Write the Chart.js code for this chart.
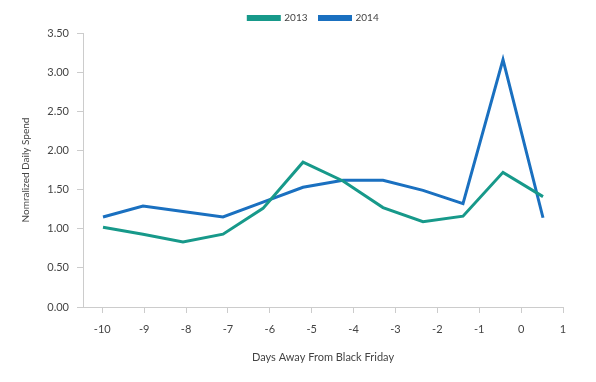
<!DOCTYPE html>
<html>
<head>
<meta charset="utf-8">
<script src="https://cdn.jsdelivr.net/npm/chart.js@4"></script>
<style>
html,body{margin:0;padding:0;background:#fff;}
#wrap{width:596px;height:382px;}
</style>
</head>
<body>
<div id="wrap"><canvas id="c" width="596" height="382"></canvas></div>
<script>
const days = [-10,-9,-8,-7,-6,-5,-4,-3,-2,-1,0,1];
const spend2013 = [1.02,0.93,0.83,0.93,1.26,1.85,1.61,1.27,1.09,1.16,1.72,1.41];
const spend2014 = [1.15,1.29,1.22,1.15,1.34,1.53,1.62,1.62,1.49,1.32,3.16,1.14];
const xTickLabels = [-10,-9,-8,-7,-6,-5,-4,-3,-2,-1,0,1];
const yTicks = [0,0.5,1,1.5,2,2.5,3,3.5];

const font = "Lato, 'Open Sans', sans-serif";
Chart.defaults.font.family = font;
Chart.defaults.color = '#444';

const legendShift = {
  id:'legendShift',
  afterLayout(chart){
    if (chart.legend) { chart.legend.left += 24; chart.legend.right += 24; }
  }
};

new Chart(document.getElementById('c'), {
  type: 'line',
  data: {
    labels: days.map(String),
    datasets: [
      {label:'2013', data: spend2013, borderColor:'#17998a', backgroundColor:'#17998a', borderWidth:3, pointRadius:0, tension:0, xAxisID:'xCat'},
      {label:'2014', data: spend2014, borderColor:'#1a70c0', backgroundColor:'#1a70c0', borderWidth:3, pointRadius:0, tension:0, xAxisID:'xCat'}
    ]
  },
  plugins:[legendShift],
  options: {
    responsive:false,
    animation:false,
    layout:{padding:{left:16,right:33,top:1,bottom:15}},
    plugins:{
      legend:{
        position:'top',
        labels:{boxWidth:31,boxHeight:3,padding:12,font:{size:10,family:font},color:'#444'}
      },
      tooltip:{enabled:false}
    },
    scales:{
      xCat:{type:'category', display:false, offset:true},
      x:{
        type:'linear', position:'bottom', min:-10.46, max:1,
        afterBuildTicks:(s)=>{ s.ticks = xTickLabels.map(v=>({value:v})); },
        afterFit:(s)=>{ s.height = 60; },
        grid:{drawOnChartArea:false, tickLength:6, color:'#cccccc'},
        border:{color:'#cccccc'},
        ticks:{padding:10, font:{size:11}, color:'#444', maxRotation:0, autoSkip:false},
        title:{display:true, text:'Days Away From Black Friday', font:{size:11}, color:'#444', padding:{top:4,bottom:3}}
      },
      y:{
        min:0, max:3.5,
        afterBuildTicks:(s)=>{ s.ticks = yTicks.map(v=>({value:v})); },
        afterFit:(s)=>{ s.width = 67; },
        grid:{drawOnChartArea:false, tickLength:6, color:'#cccccc'},
        border:{color:'#cccccc'},
        ticks:{padding:8, font:{size:11}, color:'#444', callback:(v)=>Number(v).toFixed(2)},
        title:{display:true, text:'Nomralized Daily Spend', font:{size:10}, color:'#444', padding:{top:4,bottom:4}}
      }
    }
  }
});
</script>
</body>
</html>
